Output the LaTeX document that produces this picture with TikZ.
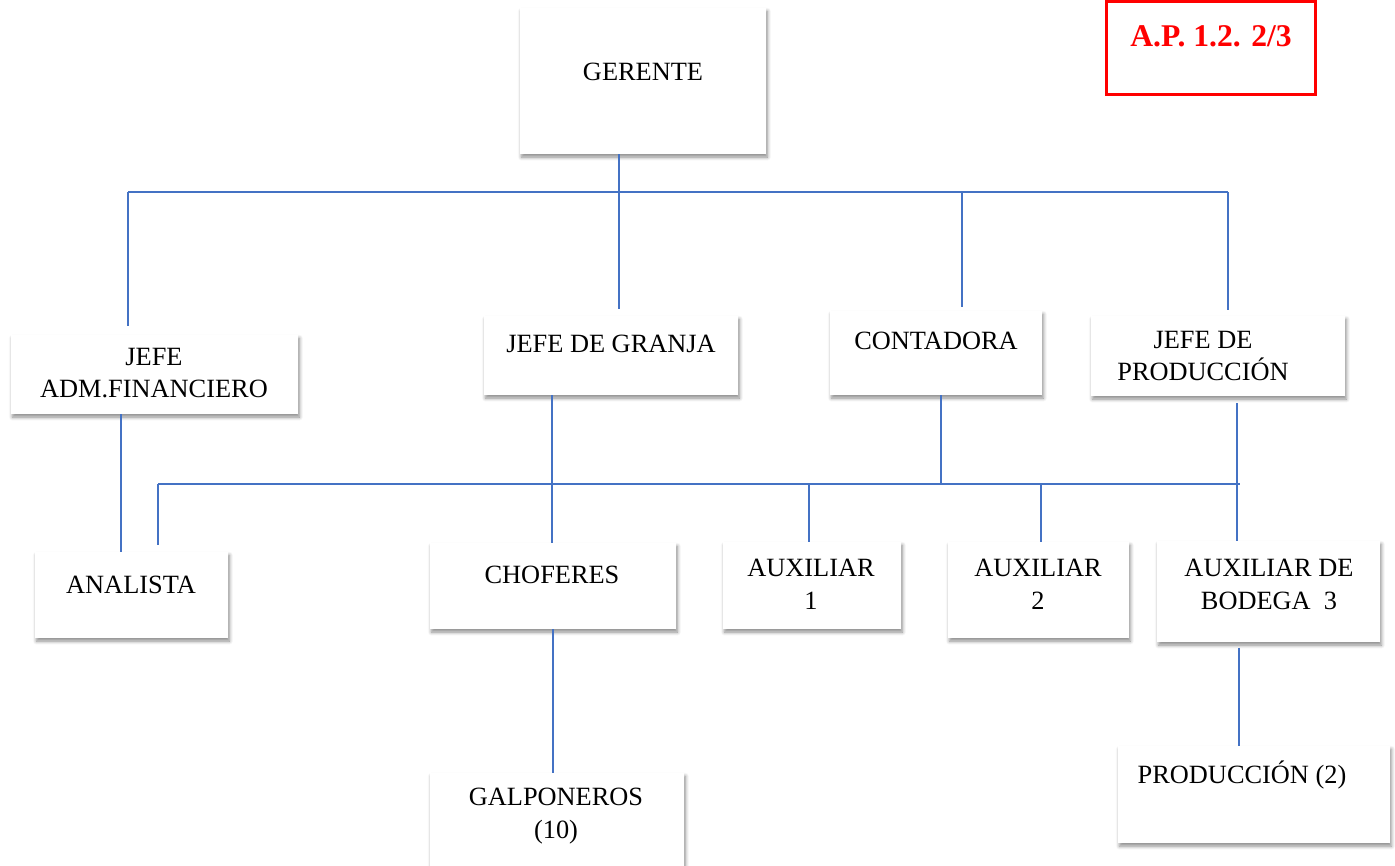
\documentclass[tikz,border=0pt]{standalone}
\usepackage{fontspec}
\setmainfont{Liberation Serif}
\usetikzlibrary{shadows.blur}
\definecolor{azul}{HTML}{4472C4}
\begin{document}
\begin{tikzpicture}[x=0.02cm, y=-0.02cm, align=center,
	caja/.style={fill=white, inner sep=0pt, blur shadow={shadow xshift=0.8pt, shadow yshift=-1.8pt, shadow blur radius=2pt, shadow blur steps=6, shadow opacity=45}},
	texto/.style={inner sep=0pt, font=\fontsize{15}{18.7}\selectfont},
	linea/.style={draw=azul, line width=1.1pt}]
	\useasboundingbox (0,0) rectangle (1395,865);
	% cajas
	\node[caja, minimum width=246*0.02cm, minimum height=146*0.02cm] (ger) at (643,81) {};
	\node[caja, minimum width=287*0.02cm, minimum height=79*0.02cm] (adm) at (154.5,374.5) {};
	\node[caja, minimum width=254*0.02cm, minimum height=79*0.02cm] (gra) at (611,355.5) {};
	\node[caja, minimum width=212*0.02cm, minimum height=84*0.02cm] (con) at (936,353) {};
	\node[caja, minimum width=254*0.02cm, minimum height=80*0.02cm] (pro) at (1218,356) {};
	\node[caja, minimum width=193*0.02cm, minimum height=86*0.02cm] (ana) at (131.5,595) {};
	\node[caja, minimum width=246*0.02cm, minimum height=86*0.02cm] (cho) at (553,586) {};
	\node[caja, minimum width=178*0.02cm, minimum height=87*0.02cm] (au1) at (812,585.5) {};
	\node[caja, minimum width=181*0.02cm, minimum height=96*0.02cm] (au2) at (1038.5,590) {};
	\node[caja, minimum width=223*0.02cm, minimum height=101*0.02cm] (aub) at (1268.5,591.5) {};
	\node[caja, minimum width=254*0.02cm, minimum height=102*0.02cm] (gal) at (557,824) {};
	\node[caja, minimum width=272*0.02cm, minimum height=97*0.02cm] (pr2) at (1254,794.5) {};
	\node[draw=red, line width=1.6pt, minimum width=209*0.02cm, minimum height=93*0.02cm] (ref) at (1211,48) {};
	% textos
	\node[texto] (tger) at (643,72) {GERENTE};
	\node[texto] (tadm) at (154,373) {JEFE\\ADM.FINANCIERO};
	\node[texto] (tgra) at (611,344) {JEFE DE GRANJA};
	\node[texto] (tcon) at (936,341) {CONTADORA};
	\node[texto] (tpro) at (1203,356) {JEFE DE\\PRODUCCIÓN};
	\node[texto] (tana) at (131,585) {ANALISTA};
	\node[texto] (tcho) at (552,575) {CHOFERES};
	\node[texto] (tau1) at (811,584) {AUXILIAR\\1};
	\node[texto] (tau2) at (1038,584) {AUXILIAR\\2};
	\node[texto] (taub) at (1269,584) {AUXILIAR DE\\BODEGA~ 3};
	\node[texto] (tgal) at (556,816) {GALPONEROS\\(10)};
	\node[texto] (tpr2) at (1242,775) {PRODUCCIÓN (2)};
	\node[texto, font=\fontsize{18}{21}\selectfont\bfseries, text=red] (tref) at (1211,36) {A.P. 1.2. 2/3};
	% lineas
	\coordinate (busA) at (128,192);
	\coordinate (busB) at (1228,192);
	\coordinate (busC) at (158,484);
	\coordinate (busD) at (1240,484);
	\draw[linea] (busA) -- (busB);
	\draw[linea] (619,0 |- ger.south) -- (619,0 |- busA);
	\draw[linea, shorten >=5pt] (busA) -- (busA |- adm.north);
	\draw[linea, shorten >=4pt] (619,0 |- busA) -- (619,0 |- gra.north);
	\draw[linea, shorten >=2pt] (962,0 |- busA) -- (962,0 |- con.north);
	\draw[linea, shorten >=3pt] (busB) -- (busB |- pro.north);
	\draw[linea] (121,0 |- adm.south) -- (121,0 |- ana.north);
	\draw[linea] (552,0 |- gra.south) -- (552,0 |- cho.north);
	\draw[linea] (941,0 |- con.south) -- (941,0 |- busC);
	\draw[linea] (busC) -- (busD);
	\draw[linea, shorten >=4pt] (busC) -- (busC |- ana.north);
	\draw[linea] (809,0 |- busC) -- (809,0 |- au1.north);
	\draw[linea] (1041,0 |- busC) -- (1041,0 |- au2.north);
	\draw[linea, shorten <=4pt] (1237,0 |- pro.south) -- (1237,0 |- aub.north);
	\draw[linea] (553,0 |- cho.south) -- (553,0 |- gal.north);
	\draw[linea, shorten <=3pt] (1239,0 |- aub.south) -- (1239,0 |- pr2.north);
\end{tikzpicture}
\end{document}
